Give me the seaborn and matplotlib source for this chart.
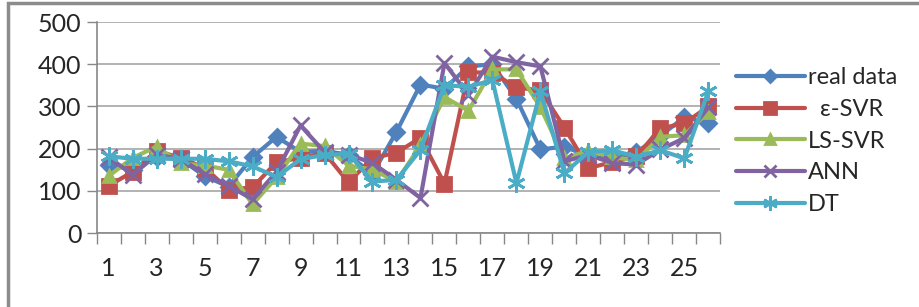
import numpy as np
import pandas as pd
import seaborn as sns
import matplotlib.pyplot as plt
from matplotlib.patches import Rectangle
from matplotlib.ticker import FixedLocator

# === data ===
samples = list(range(1, 27))
real_data = [162, 150, 180, 175, 135, 110, 180, 228, 192, 195, 185, 140, 240, 352, 342, 395, 400, 318, 198, 205,
             182, 175, 192, 230, 275, 260]
eps_svr = [112, 145, 195, 178, 155, 103, 108, 168, 178, 190, 120, 178, 190, 226, 117, 381, 380, 345, 338, 250,
           154, 168, 182, 248, 260, 300]
ls_svr = [135, 178, 205, 165, 160, 150, 68, 132, 212, 206, 160, 150, 122, 208, 322, 290, 388, 388, 298, 177,
          195, 180, 172, 228, 232, 287]
ann = [180, 138, 185, 176, 140, 112, 80, 145, 255, 192, 186, 166, 126, 83, 403, 328, 418, 405, 395, 170,
       185, 166, 162, 198, 225, 298]
dt = [182, 176, 176, 176, 176, 170, 158, 133, 175, 185, 188, 122, 126, 197, 350, 347, 362, 118, 336, 142,
      192, 196, 181, 196, 177, 336]

series = {
    "real data": real_data,
    "  \u03b5-SVR": eps_svr,
    "LS-SVR": ls_svr,
    "ANN": ann,
    "DT": dt,
}
colors = ["#4F81BD", "#C0504D", "#9BBB59", "#8064A2", "#4BACC6"]
markers = ["D", "s", "^", "x", (6, 2, 0)]
msizes = [8, 10, 9, 11, 13]

sns.set_style("white")
plt.rcParams["font.family"] = ["Lato", "DejaVu Sans"]

fig = plt.figure(figsize=(9.2, 3.07), dpi=100)
ax = fig.add_axes([0.105, 0.241, 0.678, 0.687])

for (name, vals), c, m, ms in zip(series.items(), colors, markers, msizes):
    df = pd.DataFrame({"x": samples, "y": vals})
    sns.lineplot(data=df, x="x", y="y", ax=ax, color=c, linewidth=3, marker=m,
                 markersize=ms, markeredgecolor=c, markeredgewidth=2, label=name)

ax.set_xlim(0.5, 26.5)
ax.set_ylim(0, 500)
ax.set_yticks([0, 100, 200, 300, 400, 500])
ax.set_xticks(list(range(1, 27, 2)))
ax.xaxis.set_minor_locator(FixedLocator(np.arange(0.5, 27, 1)))
ax.tick_params(axis="x", which="major", length=0, pad=17, labelsize=18)
ax.tick_params(axis="x", which="minor", length=8, width=1, color="#888888", bottom=True)
ax.tick_params(axis="y", length=7, width=1, color="#888888", pad=4, labelsize=18, left=True)
ax.grid(axis="y", color="#a6a6a6", linewidth=1.2)
ax.set_xlabel("")
ax.set_ylabel("")
for s in ["top", "right"]:
    ax.spines[s].set_visible(False)
for s in ["left", "bottom"]:
    ax.spines[s].set_color("#888888")
    ax.spines[s].set_linewidth(1.2)

leg = ax.legend(loc="upper left", bbox_to_anchor=(1.01, 0.83), frameon=False, fontsize=17,
                handlelength=2.9, handletextpad=0.15, labelspacing=0.45, borderaxespad=0,
                markerscale=0.8)

# outer frame like the source screenshot
fig.patches.append(Rectangle((0.009, -0.05), 1.2, 1.04, transform=fig.transFigure,
                             fill=False, edgecolor="#8c8c8c", linewidth=2.5))

fig.savefig("out.png", dpi=100)
